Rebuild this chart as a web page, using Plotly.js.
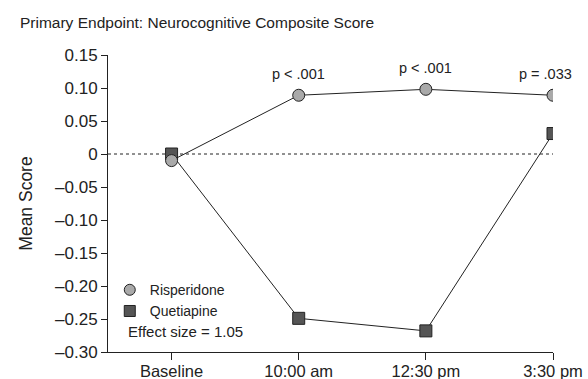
<!DOCTYPE html>
<html><head><meta charset="utf-8">
<script src="https://cdn.plot.ly/plotly-3.0.1.min.js"></script>
<style>body{margin:0;background:#fff}#c{width:588px;height:379px}</style>
</head><body><div id="c"></div>
<script>
const categories = ["Baseline", "10:00 am", "12:30 pm", "3:30 pm"];
const risperidone = [-0.01, 0.089, 0.098, 0.089];
const quetiapine = [0.0, -0.249, -0.268, 0.031];
const pLabels = ["", "p < .001", "p < .001", "p = .033"];
const yTickVals = [0.15, 0.10, 0.05, 0, -0.05, -0.10, -0.15, -0.20, -0.25, -0.30];
const yTickText = ["0.15", "0.10", "0.05", "0", "\u20130.05", "\u20130.10", "\u20130.15", "\u20130.20", "\u20130.25", "\u20130.30"];
const xIdx = categories.map((c, i) => i);

const font = "Liberation Sans, Arial, sans-serif";
const traces = [
  {x: xIdx, y: quetiapine, mode: "lines+markers", showlegend: false,
   line: {color: "#222", width: 1},
   marker: {symbol: "square", size: 12, color: "#555555", line: {color: "#222", width: 1}}},
  {x: xIdx, y: risperidone, mode: "lines+markers", showlegend: false,
   line: {color: "#222", width: 1},
   marker: {symbol: "circle", size: 12, color: "#a9a9a9", line: {color: "#222", width: 1}}},
  {x: [null], y: [null], mode: "markers", name: "Risperidone",
   marker: {symbol: "circle", size: 11, color: "#a9a9a9", line: {color: "#222", width: 1}}},
  {x: [null], y: [null], mode: "markers", name: "Quetiapine",
   marker: {symbol: "square", size: 11, color: "#555555", line: {color: "#222", width: 1}}}
];

const annotations = [];
xIdx.forEach(i => {
  if (pLabels[i]) annotations.push({x: i, y: risperidone[i], text: pLabels[i], showarrow: false,
    yshift: 21, xshift: i === xIdx.length - 1 ? -8 : 0, font: {size: 14.5, color: "#222", family: font}});
});
annotations.push({xref: "paper", yref: "paper", x: 0.04, y: 0.068, xanchor: "left", yanchor: "middle",
  text: "Effect size = 1.05", showarrow: false, font: {size: 15, color: "#222", family: font}});

const layout = {
  width: 588, height: 379,
  margin: {l: 108, r: 35, t: 55, b: 27},
  paper_bgcolor: "#fff", plot_bgcolor: "#fff",
  font: {family: font, color: "#222"},
  title: {text: "Primary Endpoint: Neurocognitive Composite Score", x: 0.034, xanchor: "left", y: 0.94, yanchor: "middle",
    font: {size: 15.5, color: "#222", family: font}},
  xaxis: {range: [-0.5, 3], tickvals: xIdx, ticktext: categories, showgrid: false, zeroline: false,
    showline: true, linecolor: "#222", linewidth: 1, ticks: "outside", ticklen: 7, tickcolor: "#222",
    ticklabelstandoff: -3,
    tickfont: {size: 16.5, color: "#222", family: font}},
  yaxis: {range: [-0.30, 0.15], tickvals: yTickVals, ticktext: yTickText, showgrid: false, zeroline: false,
    showline: true, linecolor: "#222", linewidth: 1, ticks: "outside", ticklen: 6, tickcolor: "#222",
    tickfont: {size: 17, color: "#222", family: font},
    title: {text: "Mean Score", standoff: 17, font: {size: 17.5, color: "#222", family: font}}},
  showlegend: true,
  legend: {x: 0.004, y: 0.262, xanchor: "left", yanchor: "top", bgcolor: "rgba(0,0,0,0)",
    font: {size: 14, color: "#222", family: font}, tracegroupgap: 0, itemwidth: 30},
  shapes: [{type: "line", xref: "x", yref: "y", x0: -0.5, x1: 3, y0: 0, y1: 0,
    line: {color: "#222", width: 1, dash: "dot"}, layer: "below"}],
  annotations: annotations
};
Plotly.newPlot("c", traces, layout, {displayModeBar: false, staticPlot: true});
</script></body></html>
